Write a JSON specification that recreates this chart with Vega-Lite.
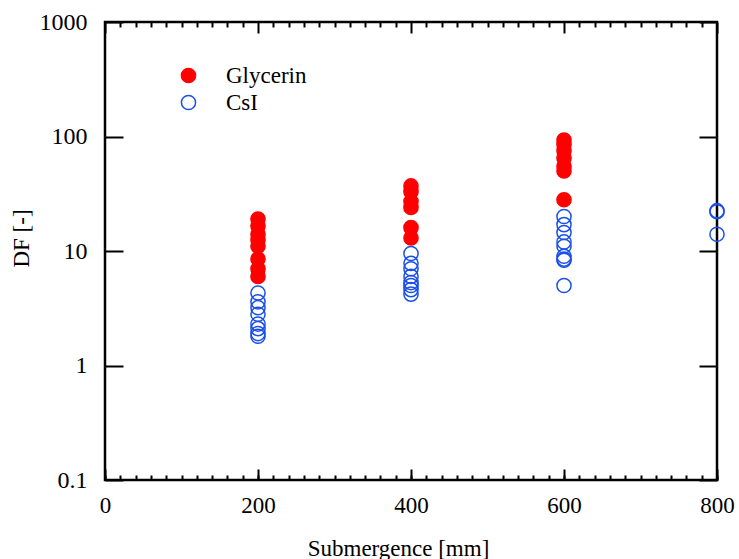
{
  "$schema": "https://vega.github.io/schema/vega-lite/v6.json",
  "width": 612,
  "height": 458,
  "autosize": "none",
  "padding": {"left": 105, "top": 22, "right": 22, "bottom": 79},
  "background": "white",
  "config": {
    "view": {"stroke": "black", "strokeWidth": 2.5},
    "font": "Liberation Serif",
    "axis": {"ticks": true, "tickOpacity": 1}
  },
  "data": {
    "values": [
      {"x": 200, "df": 19, "s": "Glycerin"},
      {"x": 200, "df": 16.5, "s": "Glycerin"},
      {"x": 200, "df": 14, "s": "Glycerin"},
      {"x": 200, "df": 12.5, "s": "Glycerin"},
      {"x": 200, "df": 11, "s": "Glycerin"},
      {"x": 200, "df": 8.5, "s": "Glycerin"},
      {"x": 200, "df": 7, "s": "Glycerin"},
      {"x": 200, "df": 6, "s": "Glycerin"},
      {"x": 400, "df": 37, "s": "Glycerin"},
      {"x": 400, "df": 33, "s": "Glycerin"},
      {"x": 400, "df": 27, "s": "Glycerin"},
      {"x": 400, "df": 24, "s": "Glycerin"},
      {"x": 400, "df": 16, "s": "Glycerin"},
      {"x": 400, "df": 13, "s": "Glycerin"},
      {"x": 600, "df": 93, "s": "Glycerin"},
      {"x": 600, "df": 85, "s": "Glycerin"},
      {"x": 600, "df": 75, "s": "Glycerin"},
      {"x": 600, "df": 65, "s": "Glycerin"},
      {"x": 600, "df": 55, "s": "Glycerin"},
      {"x": 600, "df": 50, "s": "Glycerin"},
      {"x": 600, "df": 28, "s": "Glycerin"},
      {"x": 200, "df": 4.3, "s": "CsI"},
      {"x": 200, "df": 3.6, "s": "CsI"},
      {"x": 200, "df": 3.2, "s": "CsI"},
      {"x": 200, "df": 2.8, "s": "CsI"},
      {"x": 200, "df": 2.3, "s": "CsI"},
      {"x": 200, "df": 2.1, "s": "CsI"},
      {"x": 200, "df": 1.9, "s": "CsI"},
      {"x": 200, "df": 1.8, "s": "CsI"},
      {"x": 400, "df": 9.5, "s": "CsI"},
      {"x": 400, "df": 7.8, "s": "CsI"},
      {"x": 400, "df": 7, "s": "CsI"},
      {"x": 400, "df": 6, "s": "CsI"},
      {"x": 400, "df": 5.3, "s": "CsI"},
      {"x": 400, "df": 5, "s": "CsI"},
      {"x": 400, "df": 4.6, "s": "CsI"},
      {"x": 400, "df": 4.2, "s": "CsI"},
      {"x": 600, "df": 20, "s": "CsI"},
      {"x": 600, "df": 17, "s": "CsI"},
      {"x": 600, "df": 14.5, "s": "CsI"},
      {"x": 600, "df": 12, "s": "CsI"},
      {"x": 600, "df": 11, "s": "CsI"},
      {"x": 600, "df": 9, "s": "CsI"},
      {"x": 600, "df": 8.5, "s": "CsI"},
      {"x": 600, "df": 8.3, "s": "CsI"},
      {"x": 600, "df": 5, "s": "CsI"},
      {"x": 800, "df": 22, "s": "CsI"},
      {"x": 800, "df": 22.5, "s": "CsI"},
      {"x": 800, "df": 14, "s": "CsI"}
    ]
  },
  "layer": [
    {
      "mark": {"type": "point", "shape": "circle", "size": 200, "strokeWidth": 1.5, "opacity": 1},
      "encoding": {
        "x": {
          "field": "x", "type": "quantitative",
          "scale": {"domain": [0, 800], "nice": false, "zero": false},
          "axis": {
            "orient": "bottom", "offset": -11,
            "title": "Submergence [mm]",
            "titleFont": "Liberation Serif", "titleFontSize": 23, "titleFontWeight": "normal", "titleColor": "black",
            "titlePadding": 20, "titleX": 293, "titleAnchor": "middle",
            "values": [0, 200, 400, 600, 800],
            "labelFont": "Liberation Serif", "labelFontSize": 23, "labelColor": "black",
            "labelPadding": 14, "labelFlush": false, "labelOverlap": false,
            "domain": false, "grid": false, "ticks": true,
            "tickColor": "#000000", "tickOpacity": 1, "tickWidth": 2, "tickSize": 11
          }
        },
        "y": {
          "field": "df", "type": "quantitative",
          "scale": {"type": "log", "domain": [0.1, 1000], "nice": false},
          "axis": {
            "orient": "left", "offset": -18,
            "title": "DF [-]",
            "titleFont": "Liberation Serif", "titleFontSize": 23, "titleFontWeight": "normal", "titleColor": "black",
            "titlePadding": 6, "titleY": 216, "titleAnchor": "middle",
            "values": [0.1, 1, 10, 100, 1000],
            "labelExpr": "datum.value >= 1 ? format(datum.value, 'd') : '0.1'",
            "labelFont": "Liberation Serif", "labelFontSize": 24, "labelColor": "black",
            "labelPadding": 18, "labelFlush": false, "labelOverlap": false,
            "domain": false, "grid": false, "ticks": true,
            "tickColor": "black", "tickWidth": 2, "tickSize": 18
          }
        },
        "fill": {
          "field": "s", "type": "nominal",
          "scale": {"domain": ["Glycerin", "CsI"], "range": ["#ff0000", "rgba(255,255,255,0)"]},
          "legend": {
            "orient": "none", "legendX": 72, "legendY": 42, "title": null,
            "padding": 0, "symbolSize": 200, "symbolStrokeWidth": 1.5,
            "labelFont": "Liberation Serif", "labelFontSize": 23, "labelColor": "black",
            "labelOffset": 26, "rowPadding": 3
          }
        },
        "stroke": {
          "field": "s", "type": "nominal",
          "scale": {"domain": ["Glycerin", "CsI"], "range": ["#ff0000", "#1a50e8"]},
          "legend": {
            "orient": "none", "legendX": 72, "legendY": 42, "title": null,
            "padding": 0, "symbolSize": 200, "symbolStrokeWidth": 1.5,
            "labelFont": "Liberation Serif", "labelFontSize": 23, "labelColor": "black",
            "labelOffset": 26, "rowPadding": 3
          }
        }
      }
    },
    {
      "mark": {"type": "point", "opacity": 0},
      "encoding": {
        "x": {
          "field": "x", "type": "quantitative",
          "axis": {
            "orient": "bottom", "offset": -5, "title": null, "labels": false,
            "values": [0,20,40,60,80,100,120,140,160,180,200,220,240,260,280,300,320,340,360,380,400,420,440,460,480,500,520,540,560,580,600,620,640,660,680,700,720,740,760,780,800],
            "domain": false, "grid": false, "ticks": true,
            "tickColor": "#000000", "tickOpacity": 1, "tickWidth": 2, "tickSize": 5
          }
        },
        "y": {
          "field": "df", "type": "quantitative",
          "axis": {
            "orient": "right", "offset": -18, "title": null, "labels": false,
            "values": [0.1, 1, 10, 100, 1000],
            "domain": false, "grid": false, "ticks": true,
            "tickColor": "black", "tickWidth": 2, "tickSize": 18
          }
        }
      }
    },
    {
      "mark": {"type": "point", "opacity": 0},
      "encoding": {
        "x": {
          "field": "x", "type": "quantitative",
          "axis": {
            "orient": "top", "title": null, "labels": false,
            "values": [0,20,40,60,80,100,120,140,160,180,200,220,240,260,280,300,320,340,360,380,400,420,440,460,480,500,520,540,560,580,600,620,640,660,680,700,720,740,760,780,800],
            "domain": false, "grid": false, "ticks": true,
            "tickColor": "#000000", "tickOpacity": 1, "tickWidth": 2,
            "tickSize": {"condition": {"test": "datum.value % 200 === 0", "value": -11}, "value": -5}
          }
        },
        "y": {"field": "df", "type": "quantitative", "axis": null}
      }
    }
  ],
  "resolve": {"axis": {"x": "independent", "y": "independent"}}
}
